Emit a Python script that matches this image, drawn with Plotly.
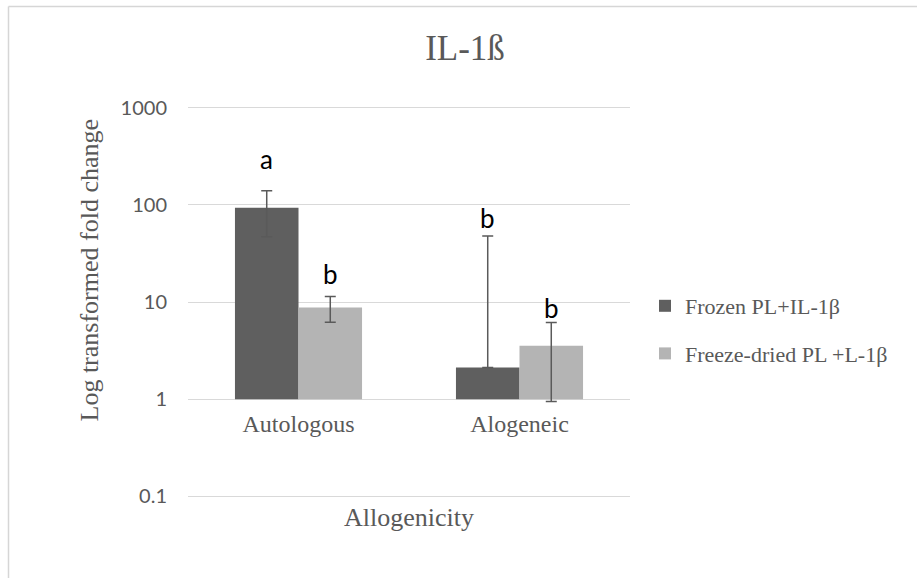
import math
import plotly.graph_objects as go

# ---- data ----
categories = ["Autologous", "Alogeneic"]
series_names = ["Frozen PL+IL-1β", "Freeze-dried PL +L-1β"]
frozen_values = [93.0, 2.12]
frozen_err_plus = [46.0, 45.5]
frozen_err_minus = [46.0, 0.0]
dried_values = [8.8, 3.55]
dried_err_plus = [2.6, 2.6]
dried_err_minus = [2.6, 2.6]
sig_letters_frozen = ["a", "b"]
sig_letters_dried = ["b", "b"]
sig_y_frozen = [298.0, 73.5]
sig_y_dried = [19.4, 8.67]
y_tickvals = [0.1, 1, 10, 100, 1000]
y_ticktext = ["0.1", "1", "10", "100", "1000"]
bar_base = 1  # the category axis crosses the value axis at 1

DARK = "#5f5f5f"
LIGHT = "#b4b4b4"
TXT = "#595959"
GRID = "#d9d9d9"
SERIF = "Liberation Serif, Times New Roman, serif"
SANS = "Lato, Carlito, Calibri, sans-serif"

EPS = 0.016
Y_RANGE = [math.log10(y_tickvals[0]) - EPS, math.log10(y_tickvals[-1]) + EPS]
span = Y_RANGE[1] - Y_RANGE[0]
pos_one = (0 - Y_RANGE[0]) / span  # paper fraction where value 1 sits

fig = go.Figure()
for name, vals, ep, em, color, grp in [
    (series_names[0], frozen_values, frozen_err_plus, frozen_err_minus, DARK, "g1"),
    (series_names[1], dried_values, dried_err_plus, dried_err_minus, LIGHT, "g2"),
]:
    fig.add_trace(go.Bar(
        x=categories,
        y=[v - bar_base for v in vals],
        base=bar_base,
        name=name,
        legendgroup=grp,
        marker=dict(color=color, line=dict(width=0)),
        error_y=dict(type="data", symmetric=False, array=ep, arrayminus=em,
                     color="#5a5a5a", thickness=1.5, width=5.5),
    ))

# significance letters (annotation y on a log axis is given in log10 units)
for trace_idx, (letters, ys) in enumerate([(sig_letters_frozen, sig_y_frozen),
                                           (sig_letters_dried, sig_y_dried)]):
    for i, (lt, yv) in enumerate(zip(letters, ys)):
        fig.add_annotation(
            x=categories[i], y=math.log10(yv), xref="x", yref="y", text=lt,
            showarrow=False, xshift=(-32 if trace_idx == 0 else 32),
            yanchor="middle",
            font=dict(family=SANS, size=26, color="#000000"),
        )

# layout helpers: plot area spans about y=106..498 px
PLOT_T, PLOT_B, PLOT_L, PLOT_R = 106, 498, 188, 630
def px_to_paper_y(py):
    return (PLOT_B - py) / (PLOT_B - PLOT_T)
def px_to_paper_x(px):
    return (px - PLOT_L) / (PLOT_R - PLOT_L)

# axis titles as annotations
fig.add_annotation(x=0.5, y=px_to_paper_y(517), xref="paper", yref="paper",
                   text="Allogenicity", showarrow=False, yanchor="middle",
                   xanchor="center", font=dict(family=SERIF, size=26, color=TXT))
fig.add_annotation(x=px_to_paper_x(88.5), y=px_to_paper_y(270), xref="paper",
                   yref="paper", text="Log transformed fold change", textangle=-90,
                   showarrow=False, yanchor="middle", xanchor="center",
                   font=dict(family=SERIF, size=26, color=TXT))

# outer chart border (top and left edges visible)
bx, by = px_to_paper_x(8.5), px_to_paper_y(6.5)
fig.add_shape(type="line", xref="paper", yref="paper", x0=bx, x1=2.0,
              y0=by, y1=by, line=dict(color="#d6d6d6", width=1.5))
fig.add_shape(type="line", xref="paper", yref="paper", x0=bx, x1=bx,
              y0=-2.0, y1=by, line=dict(color="#d6d6d6", width=1.5))

fig.update_layout(
    width=917, height=578,
    margin=dict(l=PLOT_L, r=917 - PLOT_R, t=PLOT_T, b=578 - PLOT_B),
    paper_bgcolor="white", plot_bgcolor="white",
    barmode="group", bargap=0.425, bargroupgap=0,
    title=dict(text="IL-1ß", x=px_to_paper_x(465), xref="paper", xanchor="center",
               y=1 - 48 / 578, yref="container", yanchor="middle",
               font=dict(family=SERIF, size=35, color=TXT)),
    legend=dict(x=px_to_paper_x(645), xanchor="left", y=px_to_paper_y(285),
                yanchor="top",
                font=dict(family=SERIF, size=22, color=TXT),
                traceorder="grouped", tracegroupgap=16,
                bgcolor="rgba(0,0,0,0)"),
    xaxis=dict(type="category", range=[-0.5, 1.5], anchor="free", position=pos_one,
               showgrid=False, showline=False, zeroline=False, ticks="",
               ticklabelstandoff=8,
               tickfont=dict(family=SERIF, size=24, color=TXT)),
    yaxis=dict(type="log", range=Y_RANGE, tickvals=y_tickvals, ticktext=y_ticktext,
               showgrid=True, gridcolor=GRID, gridwidth=1, showline=False,
               zeroline=False, ticks="", ticklabelstandoff=20,
               tickfont=dict(family=SANS, size=20, color=TXT)),
    showlegend=True,
)

fig.write_html("out.html")
